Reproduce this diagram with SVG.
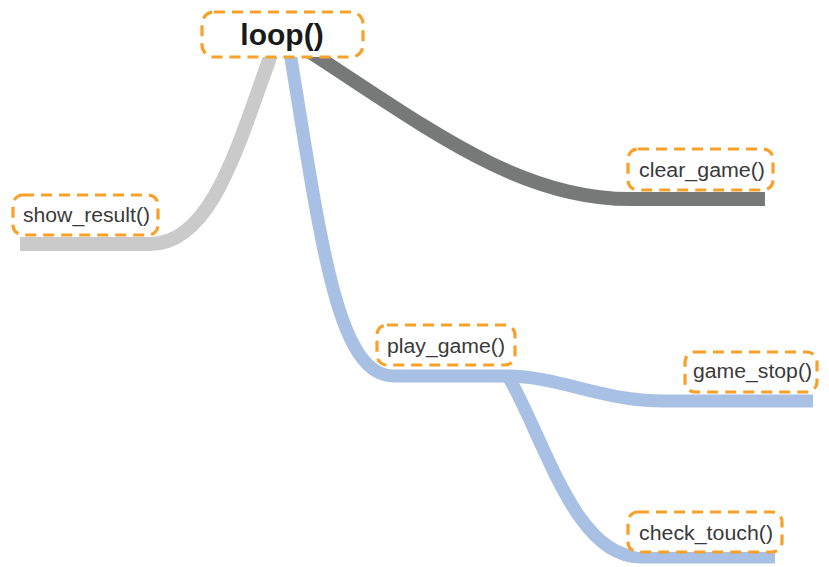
<svg xmlns="http://www.w3.org/2000/svg" width="829" height="567" viewBox="0 0 829 567">
<style>
.box{fill:#ffffff;stroke:#f7a12a;stroke-width:3.2;stroke-dasharray:11 7;}
.lbl{font-family:"Liberation Sans",Arial,sans-serif;font-size:20px;fill:#3a3a3a;}
.title{font-family:"Liberation Sans",Arial,sans-serif;font-size:30px;font-weight:bold;fill:#1a1a1a;}
.ln{fill:none;stroke-linecap:butt;stroke-linejoin:round;}
.lgray{stroke:#c9cac9;stroke-width:14;}
.dgray{stroke:#777979;stroke-width:14;}
.blue{stroke:#a8c0e3;stroke-width:13;}
</style>
<rect width="829" height="567" fill="#ffffff"/>
<g id="connectors">
<path class="ln lgray" d="M20 244 H150 C212 244 238 145 272 52"/>
<path class="ln dgray" d="M310 52 C430 130 520 199 630 199 H765"/>
<path class="ln blue" d="M290 52 C322 250 338 376 394 376 H505 C560 376 600 401 665 401 H813"/>
<path class="ln blue" d="M508 376 C545 440 575 557 640 557 H775"/>
</g>
<g id="loop">
<rect class="box" x="202" y="12" width="161" height="45" rx="12"/>
<text class="title" x="282" y="45" text-anchor="middle">loop()</text>
</g>
<g id="show_result">
<rect class="box" x="13" y="195" width="145" height="40" rx="10"/>
<text class="lbl" x="23" y="222" textLength="127" lengthAdjust="spacingAndGlyphs">show_result()</text>
</g>
<g id="clear_game">
<rect class="box" x="628" y="149" width="145" height="41" rx="10"/>
<text class="lbl" x="639" y="177" textLength="126" lengthAdjust="spacingAndGlyphs">clear_game()</text>
</g>
<g id="play_game">
<rect class="box" x="377" y="325" width="138" height="40" rx="10"/>
<text class="lbl" x="387" y="353" textLength="118" lengthAdjust="spacingAndGlyphs">play_game()</text>
</g>
<g id="game_stop">
<rect class="box" x="685" y="352" width="132" height="40" rx="10"/>
<text class="lbl" x="693" y="378" textLength="119" lengthAdjust="spacingAndGlyphs">game_stop()</text>
</g>
<g id="check_touch">
<rect class="box" x="628" y="512" width="154" height="40" rx="10"/>
<text class="lbl" x="639" y="540" textLength="134" lengthAdjust="spacingAndGlyphs">check_touch()</text>
</g>
</svg>
